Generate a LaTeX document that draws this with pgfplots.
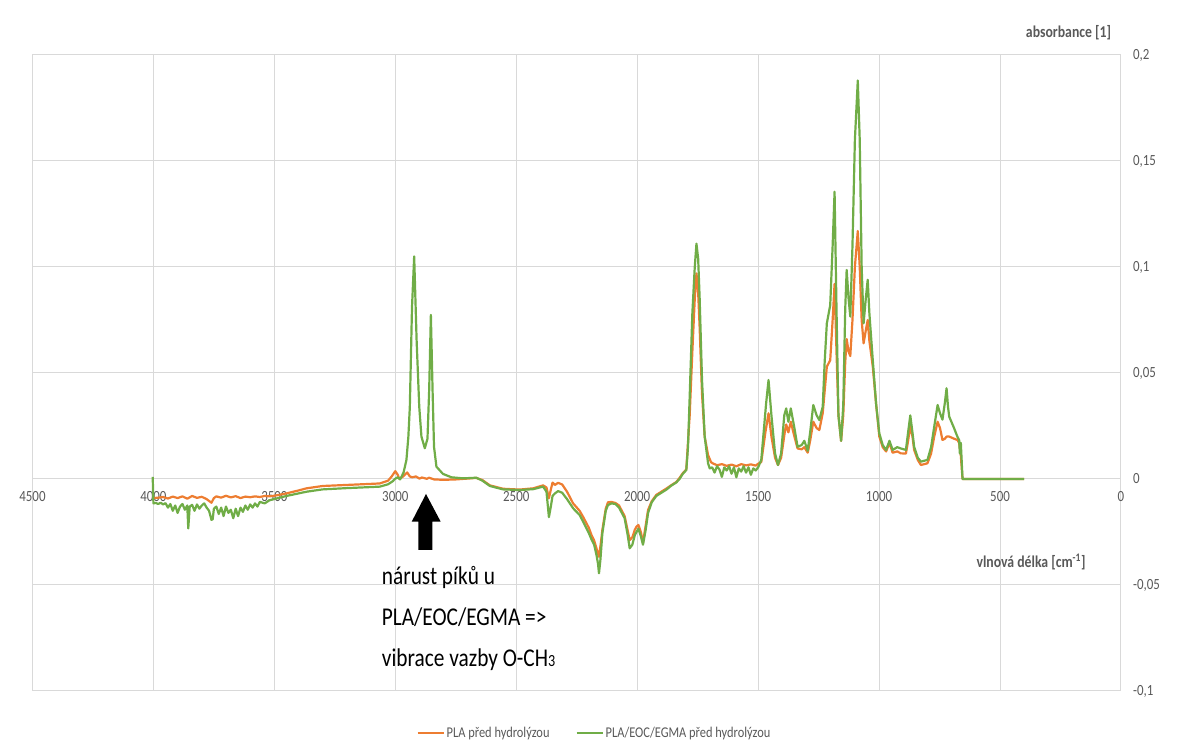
\documentclass[border=0pt]{standalone}
\usepackage{pgfplots}
\pgfplotsset{compat=1.18}
\usepackage{fontspec}
\setmainfont{Carlito}[FakeStretch=0.833]
\definecolor{plaorange}{HTML}{ED7D31}
\definecolor{blendgreen}{HTML}{70AD47}
\definecolor{gridgray}{HTML}{D9D9D9}
\definecolor{labelgray}{HTML}{595959}

% PLA before hydrolysis: wavenumber [cm^-1], absorbance
\pgfplotstableread{
wn absorb
4000 -0.0090
3980 -0.0088
3960 -0.0085
3940 -0.0092
3920 -0.0083
3900 -0.0090
3880 -0.0082
3860 -0.0093
3840 -0.0080
3820 -0.0089
3800 -0.0084
3780 -0.0095
3760 -0.0112
3750 -0.0090
3740 -0.0082
3720 -0.0088
3700 -0.0079
3680 -0.0087
3660 -0.0081
3640 -0.0090
3620 -0.0083
3600 -0.0086
3580 -0.0082
3560 -0.0085
3540 -0.0080
3520 -0.0082
3500 -0.0079
3450 -0.0068
3400 -0.0054
3367 -0.0044
3300 -0.0033
3200 -0.0028
3100 -0.0023
3064 -0.0021
3030 -0.0008
3015 0.0012
3000 0.0037
2990 0.0020
2984 0.0002
2970 0.0010
2951 0.0031
2940 0.0012
2930 0.0008
2915 0.0012
2900 0.0002
2890 0.0007
2870 0.0001
2860 0.0006
2840 -0.0002
2800 -0.0004
2750 -0.0002
2700 0.0002
2665 0.0005
2640 -0.0005
2609 -0.0030
2555 -0.0046
2486 -0.0050
2430 -0.0044
2389 -0.0030
2375 -0.0040
2365 -0.0091
2357 -0.0050
2350 -0.0017
2340 -0.0028
2327 -0.0018
2310 -0.0026
2290 -0.0060
2265 -0.0115
2238 -0.0150
2224 -0.0178
2200 -0.0230
2189 -0.0264
2178 -0.0290
2165 -0.0340
2158 -0.0367
2150 -0.0300
2144 -0.0240
2130 -0.0140
2121 -0.0110
2107 -0.0108
2090 -0.0113
2075 -0.0125
2052 -0.0175
2040 -0.0240
2031 -0.0288
2020 -0.0275
2010 -0.0240
2003 -0.0225
1995 -0.0217
1985 -0.0250
1976 -0.0300
1965 -0.0220
1955 -0.0146
1940 -0.0105
1921 -0.0075
1900 -0.0060
1879 -0.0045
1860 -0.0030
1838 -0.0014
1825 0.0005
1811 0.0028
1797 0.0045
1783 0.0300
1772 0.0600
1762 0.0850
1755 0.0970
1748 0.0880
1742 0.0720
1732 0.0400
1721 0.0200
1707 0.0113
1695 0.0080
1690 0.0075
1670 0.0065
1650 0.0070
1630 0.0062
1610 0.0068
1590 0.0060
1570 0.0070
1550 0.0064
1530 0.0069
1510 0.0063
1500 0.0072
1487 0.0080
1470 0.0220
1457 0.0310
1445 0.0200
1430 0.0100
1418 0.0066
1405 0.0100
1390 0.0220
1384 0.0257
1375 0.0220
1365 0.0270
1350 0.0200
1337 0.0144
1320 0.0140
1309 0.0150
1295 0.0124
1285 0.0180
1272 0.0270
1258 0.0240
1247 0.0231
1233 0.0310
1216 0.0530
1202 0.0560
1192 0.0750
1184 0.0920
1176 0.0600
1168 0.0300
1157 0.0180
1148 0.0300
1140 0.0550
1134 0.0660
1126 0.0600
1119 0.0580
1110 0.0750
1100 0.1000
1088 0.1170
1080 0.1000
1072 0.0750
1064 0.0640
1055 0.0700
1047 0.0750
1040 0.0650
1026 0.0530
1012 0.0350
999 0.0200
985 0.0150
971 0.0130
957 0.0170
944 0.0124
925 0.0130
910 0.0121
889 0.0120
880 0.0180
871 0.0250
862 0.0200
855 0.0137
840 0.0090
827 0.0066
800 0.0074
785 0.0120
772 0.0200
758 0.0270
748 0.0240
738 0.0184
728 0.0190
721 0.0200
710 0.0200
690 0.0190
676 0.0184
669 0.0170
662 0.0110
655 0.0000
400 0.0000
}\plaspectrum

% PLA/EOC/EGMA blend before hydrolysis
\pgfplotstableread{
wn absorb
4003 0.0010
4000 -0.0115
3990 -0.0113
3980 -0.0118
3970 -0.0112
3960 -0.0120
3950 -0.0114
3940 -0.0135
3930 -0.0118
3920 -0.0150
3910 -0.0125
3900 -0.0160
3890 -0.0130
3880 -0.0118
3870 -0.0145
3860 -0.0125
3856 -0.0233
3850 -0.0130
3840 -0.0122
3830 -0.0150
3820 -0.0120
3810 -0.0140
3800 -0.0125
3790 -0.0115
3780 -0.0135
3770 -0.0150
3760 -0.0193
3755 -0.0190
3750 -0.0140
3740 -0.0130
3730 -0.0165
3720 -0.0135
3710 -0.0175
3700 -0.0130
3690 -0.0160
3680 -0.0145
3670 -0.0185
3660 -0.0140
3650 -0.0175
3640 -0.0135
3630 -0.0155
3620 -0.0125
3610 -0.0145
3600 -0.0120
3590 -0.0135
3580 -0.0115
3570 -0.0130
3560 -0.0108
3540 -0.0115
3520 -0.0100
3505 -0.0096
3450 -0.0080
3400 -0.0068
3367 -0.0060
3300 -0.0049
3200 -0.0043
3100 -0.0038
3064 -0.0036
3030 -0.0025
3010 -0.0010
3002 0.0000
2990 0.0008
2980 -0.0002
2966 0.0030
2954 0.0090
2946 0.0200
2940 0.0340
2931 0.0810
2922 0.1050
2912 0.0656
2901 0.0340
2892 0.0200
2878 0.0145
2867 0.0190
2860 0.0420
2853 0.0774
2846 0.0420
2840 0.0152
2830 0.0058
2803 0.0024
2768 0.0008
2720 0.0003
2665 0.0006
2640 -0.0008
2609 -0.0033
2555 -0.0049
2486 -0.0052
2430 -0.0048
2389 -0.0036
2375 -0.0060
2365 -0.0180
2357 -0.0130
2350 -0.0080
2340 -0.0068
2327 -0.0057
2310 -0.0065
2290 -0.0095
2265 -0.0138
2238 -0.0170
2224 -0.0200
2200 -0.0255
2189 -0.0285
2178 -0.0310
2168 -0.0360
2162 -0.0400
2158 -0.0445
2152 -0.0380
2144 -0.0256
2130 -0.0150
2121 -0.0123
2107 -0.0115
2090 -0.0118
2075 -0.0135
2052 -0.0185
2040 -0.0260
2031 -0.0327
2020 -0.0310
2010 -0.0265
2003 -0.0250
1995 -0.0235
1985 -0.0270
1976 -0.0310
1965 -0.0240
1955 -0.0160
1940 -0.0110
1921 -0.0080
1900 -0.0065
1879 -0.0050
1860 -0.0032
1838 -0.0016
1825 0.0000
1811 0.0025
1797 0.0042
1790 0.0150
1783 0.0388
1772 0.0780
1762 0.1000
1755 0.1110
1748 0.1040
1742 0.0860
1732 0.0467
1721 0.0200
1707 0.0074
1700 0.0050
1690 0.0055
1680 0.0030
1670 0.0060
1660 0.0045
1650 0.0010
1640 0.0055
1630 0.0040
1620 0.0060
1610 0.0025
1600 0.0055
1590 0.0008
1580 0.0050
1570 0.0035
1560 0.0060
1550 0.0030
1540 0.0055
1530 0.0020
1520 0.0050
1510 0.0040
1500 0.0055
1487 0.0090
1475 0.0250
1467 0.0357
1457 0.0467
1445 0.0300
1430 0.0120
1418 0.0066
1405 0.0120
1392 0.0300
1384 0.0333
1375 0.0270
1365 0.0333
1350 0.0240
1337 0.0152
1320 0.0160
1309 0.0180
1295 0.0133
1285 0.0220
1272 0.0349
1258 0.0300
1247 0.0278
1233 0.0341
1225 0.0550
1216 0.0734
1202 0.0820
1192 0.1100
1184 0.1355
1176 0.0800
1168 0.0300
1157 0.0180
1148 0.0350
1140 0.0800
1134 0.0986
1126 0.0850
1119 0.0766
1110 0.1100
1100 0.1600
1088 0.1880
1080 0.1600
1072 0.1000
1064 0.0734
1055 0.0850
1047 0.0940
1040 0.0780
1026 0.0560
1012 0.0350
999 0.0215
985 0.0160
971 0.0137
957 0.0180
944 0.0137
925 0.0150
910 0.0144
889 0.0137
880 0.0220
871 0.0300
862 0.0220
855 0.0152
840 0.0100
827 0.0082
800 0.0090
785 0.0150
772 0.0247
758 0.0349
748 0.0310
738 0.0280
728 0.0360
721 0.0428
715 0.0340
710 0.0294
690 0.0240
676 0.0199
669 0.0184
666 0.0120
662 0.0170
655 0.0000
400 0.0000
}\blendspectrum

\begin{document}
\begin{tikzpicture}
\useasboundingbox (0pt,0pt) rectangle (1179pt,751pt);
\begin{axis}[
  at={(32.5pt,60pt)}, anchor=south west,
  scale only axis, width=1088.5pt, height=636pt,
  x dir=reverse,
  xmin=0, xmax=4500, ymin=-0.1, ymax=0.2,
  axis x line=middle, axis y line=right,
  axis line style={draw=gridgray, line width=1pt, -},
  hide obscured x ticks=false, hide obscured y ticks=false,
  xtick={0,500,...,4500},
  ytick={-0.1,-0.05,0,0.05,0.1,0.15,0.2},
  yticklabels={{-0,1},{-0,05},{0},{0,05},{0,1},{0,15},{0,2}},
  major tick length=0pt,
  grid=major,
  major grid style={draw=gridgray, line width=1pt},
  /pgf/number format/assume math mode=true,
  /pgf/number format/1000 sep={},
  xticklabel style={font=\fontsize{15.5}{16}\selectfont, text=labelgray,
    anchor=north, inner sep=0pt, yshift=-12pt},
  yticklabel style={font=\fontsize{15.5}{16}\selectfont, text=labelgray,
    anchor=west, inner sep=0pt, xshift=12pt},
  yticklabel pos=right,
  every axis plot/.append style={line width=2.2pt, line join=round},
  legend columns=2,
  legend style={at={(0.5163,-0.0665)}, anchor=center, draw=none, fill=none,
    font=\fontsize{14.9}{16}\selectfont, text=labelgray,
    nodes={inner sep=2pt},
    /tikz/every even column/.append style={column sep=24pt}},
  legend image code/.code={\draw[#1] (0pt,0pt) -- (26pt,0pt);},
  clip=false,
]
\addplot[plaorange] table[x=wn, y=absorb] {\plaspectrum};
\addlegendentry{PLA před hydrolýzou}
\addplot[blendgreen] table[x=wn, y=absorb] {\blendspectrum};
\addlegendentry{PLA/EOC/EGMA před hydrolýzou}
\end{axis}

% axis titles
\node[anchor=base, text=labelgray, font=\bfseries\fontsize{16.5}{18}\selectfont]
  at (1068.5pt,713.5pt) {absorbance [1]};
\node[anchor=base, text=labelgray, font=\bfseries\fontsize{16.5}{18}\selectfont]
  at (1031pt,183pt) {vlnová délka [cm\textsuperscript{-1}]};

% annotation arrow
\fill[black] (426pt,257pt) -- (440.7pt,229.3pt) -- (432.3pt,229.3pt)
  -- (432.3pt,201pt) -- (418.3pt,201pt) -- (418.3pt,229.3pt)
  -- (411.7pt,229.3pt) -- cycle;
\begin{scope}[every node/.style={anchor=base west, inner sep=0pt,
    font=\fontsize{25.6}{28}\selectfont}]
\node at (381.7pt,166pt) {nárust píků u};
\node at (381.7pt,125pt) {PLA/EOC/EGMA =>};
\node at (381.7pt,84pt) {vibrace vazby O-CH{\fontsize{17}{18}\selectfont 3}};
\end{scope}
\end{tikzpicture}
\end{document}
